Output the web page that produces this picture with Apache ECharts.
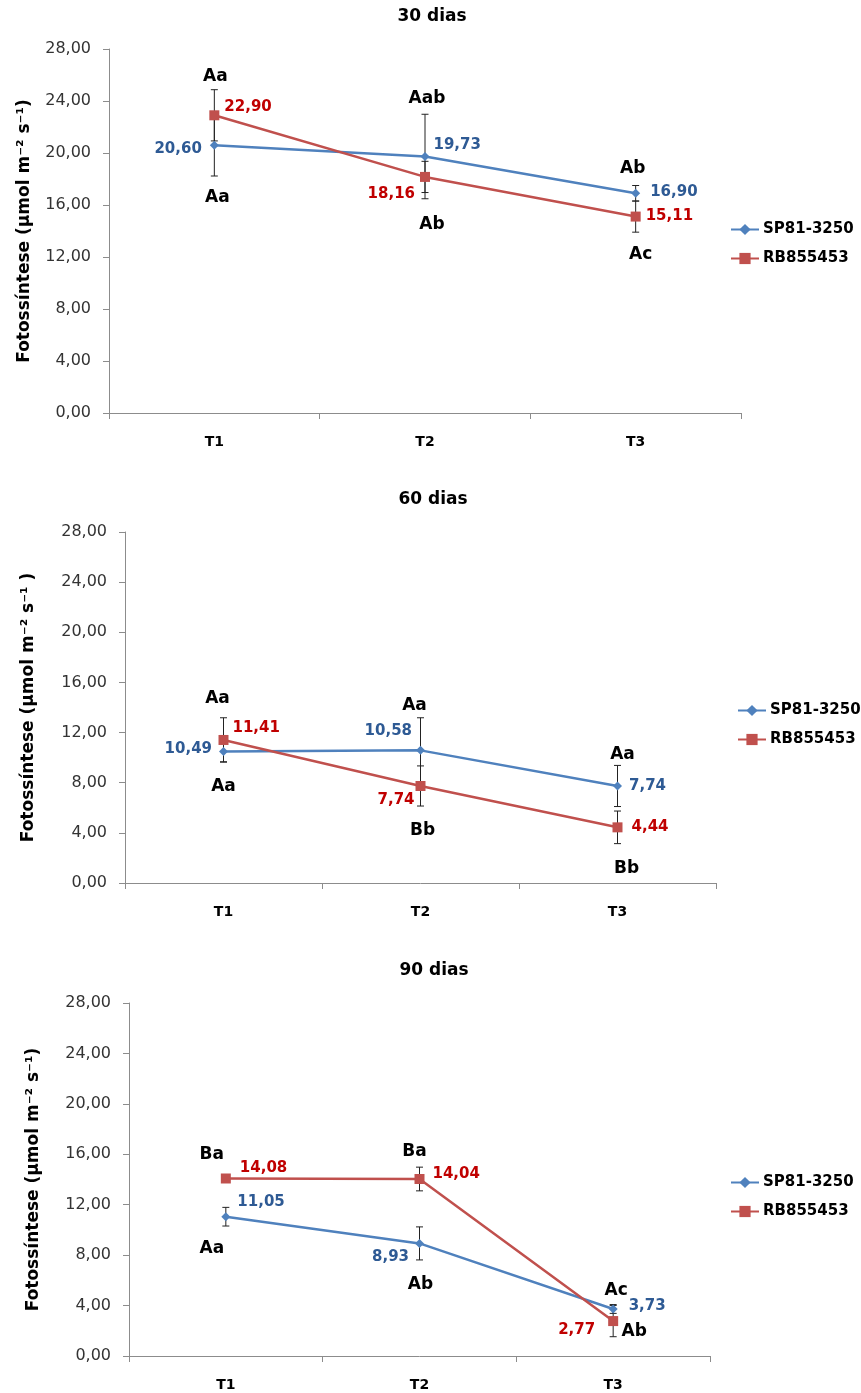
<!DOCTYPE html>
<html><head><meta charset="utf-8">
<script src="https://cdn.jsdelivr.net/npm/echarts@6/dist/echarts.min.js"></script>
<style>html,body{margin:0;padding:0;background:#fff}#c{width:861px;height:1393px}</style>
</head><body><div id="c"></div>
<script>
// ---------- DATA ----------
const categories = ['T1', 'T2', 'T3'];
const titles = ['30 dias', '60 dias', '90 dias'];
const seriesNames = ['SP81-3250', 'RB855453'];
const yTickLabels = ['0,00', '4,00', '8,00', '12,00', '16,00', '20,00', '24,00', '28,00'];

const sp30 = [20.60, 19.73, 16.90];
const rb30 = [22.90, 18.16, 15.11];
const sp60 = [10.49, 10.58, 7.74];
const rb60 = [11.41, 7.74, 4.44];
const sp90 = [11.05, 8.93, 3.73];
const rb90 = [14.08, 14.04, 2.77];

const spErr30 = [2.37, 3.25, 0.60];
const rbErr30 = [1.97, 1.20, 1.20];
const spErr60 = [0.82, 2.60, 1.64];
const rbErr60 = [1.77, 1.60, 1.30];
const spErr90 = [0.74, 1.31, 0.35];
const rbErr90 = [0.30, 0.94, 1.24];

const lettersTop30 = ['Aa', 'Aab', 'Ab'];
const lettersBottom30 = ['Aa', 'Ab', 'Ac'];
const lettersTop60 = ['Aa', 'Aa', 'Aa'];
const lettersBottom60 = ['Aa', 'Bb', 'Bb'];
const lettersTop90 = ['Ba', 'Ba', 'Ac'];
const lettersBottom90 = ['Aa', 'Ab', 'Ab'];

// ---------- LAYOUT / STYLE ----------
const FONT = '"DejaVu Sans", Verdana, sans-serif';
const BLUE = '#4F81BD', RED = '#C0504D';
const BLUE_TXT = '#2E5A94', RED_TXT = '#C00000';
const grids = [
  {left: 109, top: 49, width: 632, height: 364},
  {left: 125, top: 532, width: 591, height: 351},
  {left: 129, top: 1003, width: 581, height: 353}
];
const titleCenters = [[432, 17], [433, 500], [434, 971]];
const legendPos = [[730, 229], [737, 710], [730, 1182]];
const nameGaps = [76, 88, 87];
const yNames = ['Fotossíntese (µmol m⁻² s⁻¹)', 'Fotossíntese (µmol m⁻² s⁻¹ )', 'Fotossíntese (µmol m⁻² s⁻¹)'];
// value label placement per chart: [position, distance, dy]
const spLabelCfg = [
  [['left', 8, 4], ['right', 4, -11], ['right', 10, -1]],
  [['left', 7, -2], ['left', 4, -19], ['right', 7, 0]],
  [['right', 7, -15], ['left', 6, 14], ['right', 11, -3]]
];
const rbLabelCfg = [
  [['right', 5, -8], ['left', 5, 17], ['right', 5, 0]],
  [['right', 4, -12], ['left', 1, 14], ['right', 9, 0]],
  [['right', 9, -10], ['right', 8, -5], ['left', 13, 9]]
];
// letter offsets per chart per category: [dxTop, dyTop(above cap), dxBot, dyBot(below cap)]
const letterCfg = [
  [[1, 13, 3, 22], [2, 16, 7, 26], [-3, 17, 5, 22]],
  [[-6, 19, 0, 24], [-6, 12, 2, 25], [5, 11, 9, 25]],
  [[-14, 20, -14, 23], [-5, 16, 1, 25], [3, 14, 21, -5]]
];

const spAll = [sp30, sp60, sp90], rbAll = [rb30, rb60, rb90];
const spErrAll = [spErr30, spErr60, spErr90], rbErrAll = [rbErr30, rbErr60, rbErr90];
const topAll = [lettersTop30, lettersTop60, lettersTop90];
const botAll = [lettersBottom30, lettersBottom60, lettersBottom90];

const fmt = v => v.toFixed(2).replace('.', ',');

const chart = echarts.init(document.getElementById('c'), null, {renderer: 'canvas'});

const xAxes = [], yAxes = [], series = [], legends = [], graphics = [];

grids.forEach((g, i) => {
  xAxes.push({
    type: 'category', gridIndex: i, data: categories, boundaryGap: true,
    axisLine: {lineStyle: {color: '#8C8C8C', width: 1}},
    axisTick: {show: true, length: 6, lineStyle: {color: '#8C8C8C'}},
    axisLabel: {margin: 22, fontFamily: FONT, fontWeight: 'bold', fontSize: 14, color: '#000'},
    splitLine: {show: false}
  });
  yAxes.push({
    type: 'value', gridIndex: i, min: 0, max: 28, interval: 4,
    name: yNames[i], nameLocation: 'middle', nameGap: nameGaps[i],
    nameTextStyle: {fontFamily: FONT, fontWeight: 'bold', fontSize: 17, color: '#000'},
    axisLine: {show: true, lineStyle: {color: '#8C8C8C', width: 1}},
    axisTick: {show: true, length: 6, lineStyle: {color: '#8C8C8C'}},
    axisLabel: {margin: 18, fontFamily: FONT, fontSize: 16, color: '#333',
      formatter: v => yTickLabels[Math.round(v / 4)]},
    splitLine: {show: false}
  });

  const mkData = (vals, cfg) => vals.map((v, j) => ({
    value: v,
    label: {position: cfg[j][0], distance: cfg[j][1], offset: [0, cfg[j][2]]}
  }));

  // error bars
  const errData = [];
  spAll[i].forEach((v, j) => errData.push([j, v - spErrAll[i][j], v + spErrAll[i][j]]));
  rbAll[i].forEach((v, j) => errData.push([j, v - rbErrAll[i][j], v + rbErrAll[i][j]]));
  series.push({
    type: 'custom', name: 'err' + i, xAxisIndex: i, yAxisIndex: i, z: 1, silent: true,
    data: errData, encode: {x: 0, y: [1, 2]},
    renderItem: (params, api) => {
      const x = api.value(0);
      const pL = api.coord([x, api.value(1)]), pH = api.coord([x, api.value(2)]);
      const w = 3.5, st = {stroke: '#222', lineWidth: 1};
      return {type: 'group', children: [
        {type: 'line', shape: {x1: pH[0], y1: pH[1], x2: pL[0], y2: pL[1]}, style: st},
        {type: 'line', shape: {x1: pH[0] - w, y1: pH[1], x2: pH[0] + w, y2: pH[1]}, style: st},
        {type: 'line', shape: {x1: pL[0] - w, y1: pL[1], x2: pL[0] + w, y2: pL[1]}, style: st}
      ]};
    }
  });

  // lines
  series.push({
    type: 'line', name: seriesNames[0], xAxisIndex: i, yAxisIndex: i, z: 3,
    data: mkData(spAll[i], spLabelCfg[i]),
    symbol: 'diamond', symbolSize: 9, showAllSymbol: true,
    lineStyle: {width: 2.5, color: BLUE}, itemStyle: {color: BLUE},
    label: {show: true, formatter: p => fmt(p.value), color: BLUE_TXT, fontFamily: FONT, fontWeight: 'bold', fontSize: 15},
    emphasis: {disabled: true}
  });
  series.push({
    type: 'line', name: seriesNames[1], xAxisIndex: i, yAxisIndex: i, z: 3,
    data: mkData(rbAll[i], rbLabelCfg[i]),
    symbol: 'rect', symbolSize: 10, showAllSymbol: true,
    lineStyle: {width: 2.5, color: RED}, itemStyle: {color: RED},
    label: {show: true, formatter: p => fmt(p.value), color: RED_TXT, fontFamily: FONT, fontWeight: 'bold', fontSize: 15},
    emphasis: {disabled: true}
  });

  // significance letters
  const letData = categories.map((c, j) => {
    const lo = Math.min(spAll[i][j] - spErrAll[i][j], rbAll[i][j] - rbErrAll[i][j]);
    const hi = Math.max(spAll[i][j] + spErrAll[i][j], rbAll[i][j] + rbErrAll[i][j]);
    return [j, lo, hi];
  });
  series.push({
    type: 'custom', name: 'letters' + i, xAxisIndex: i, yAxisIndex: i, z: 4, silent: true,
    data: letData, encode: {x: 0, y: [1, 2]},
    renderItem: (params, api) => {
      const j = api.value(0);
      const pL = api.coord([j, api.value(1)]), pH = api.coord([j, api.value(2)]);
      const c = letterCfg[i][j];
      const font = 'bold 17px ' + FONT;
      return {type: 'group', children: [
        {type: 'text', x: pH[0] + c[0], y: pH[1] - c[1],
          style: {text: topAll[i][j], font, fill: '#000', align: 'center', verticalAlign: 'middle'}},
        {type: 'text', x: pL[0] + c[2], y: pL[1] + c[3],
          style: {text: botAll[i][j], font, fill: '#000', align: 'center', verticalAlign: 'middle'}}
      ]};
    }
  });

  legends.push({
    orient: 'vertical', left: legendPos[i][0], top: legendPos[i][1] - 7, padding: 0,
    itemWidth: 28, itemHeight: 14, itemGap: 14, selectedMode: false,
    textStyle: {fontFamily: FONT, fontWeight: 'bold', fontSize: 15, color: '#000', padding: [0, 0, 0, -1]},
    data: seriesNames
  });

  graphics.push({
    type: 'text', x: titleCenters[i][0], y: titleCenters[i][1],
    style: {text: titles[i], font: 'bold 17px ' + FONT, fill: '#000', align: 'center', verticalAlign: 'middle'}
  });
});

chart.setOption({
  animation: false,
  backgroundColor: '#fff',
  grid: grids.map(g => Object.assign({containLabel: false}, g)),
  xAxis: xAxes,
  yAxis: yAxes,
  legend: legends,
  graphic: graphics,
  series: series
});
</script>
</body></html>
